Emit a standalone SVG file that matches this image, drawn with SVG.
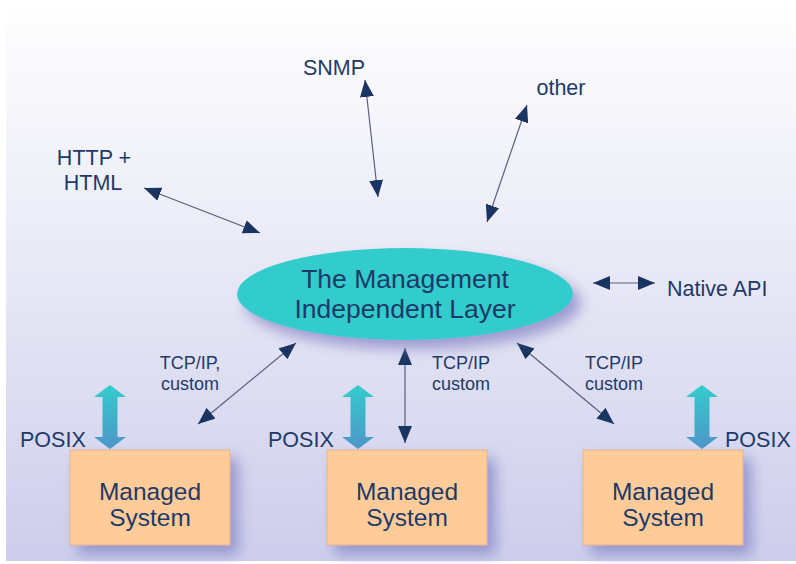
<svg xmlns="http://www.w3.org/2000/svg" width="796" height="564" viewBox="0 0 796 564">
<style>
text{font-family:"Liberation Sans",Arial,sans-serif;fill:#1e3a68}
.lbl{font-size:21.5px}
.tcp{font-size:18px;text-anchor:middle}
.box{fill:#ffcc99;stroke:#e4b58c;stroke-width:1}
.ms{font-size:24.5px;text-anchor:middle}
.conn line{stroke:#5a5f80;stroke-width:1.2;marker-start:url(#ah);marker-end:url(#ah)}
.posix{fill:url(#pg)}
</style>
<defs>
<linearGradient id="bg" x1="0" y1="0" x2="0" y2="1">
<stop offset="0" stop-color="#ffffff"/>
<stop offset="0.45" stop-color="#eaeaf7"/>
<stop offset="1" stop-color="#cdcdec"/>
</linearGradient>
<linearGradient id="pg" x1="0" y1="0" x2="0" y2="1">
<stop offset="0" stop-color="#33cccc"/>
<stop offset="1" stop-color="#4d96c8"/>
</linearGradient>
<filter id="sh" x="-30%" y="-30%" width="160%" height="170%">
<feGaussianBlur in="SourceAlpha" stdDeviation="7"/>
<feOffset dx="8" dy="9" result="b"/>
<feFlood flood-color="#8484c4" flood-opacity="0.75"/>
<feComposite in2="b" operator="in"/>
<feMerge><feMergeNode/><feMergeNode in="SourceGraphic"/></feMerge>
</filter>
<marker id="ah" viewBox="0 0 17 14" refX="17" refY="7" markerWidth="17" markerHeight="14" markerUnits="userSpaceOnUse" orient="auto-start-reverse">
<path d="M0,0 L17,7 L0,14 Z" fill="#1a3462"/>
</marker>
</defs>
<rect x="0" y="0" width="796" height="564" fill="#ffffff"/>
<rect x="6" y="0" width="790" height="561" fill="url(#bg)"/>

<g id="conns" class="conn">
<line x1="260" y1="233" x2="144" y2="188"/>
<line x1="378" y1="197" x2="365" y2="80"/>
<line x1="487" y1="222" x2="527" y2="105"/>
<line x1="593" y1="283" x2="655" y2="283"/>
<line x1="296" y1="343" x2="198" y2="424"/>
<line x1="405" y1="348" x2="405" y2="443"/>
<line x1="517" y1="343" x2="614" y2="424"/>
</g>

<g id="layer">
<ellipse cx="405" cy="294" rx="168" ry="46" fill="#30cccc" filter="url(#sh)"/>
<text x="405" y="288" font-size="26.5" text-anchor="middle">The Management</text>
<text x="405" y="318" font-size="26.5" text-anchor="middle">Independent Layer</text>
</g>

<g id="labels" class="lbl">
<text x="334" y="75" text-anchor="middle">SNMP</text>
<text x="561" y="95" text-anchor="middle">other</text>
<text x="94" y="165" text-anchor="middle">HTTP +</text>
<text x="93" y="190" text-anchor="middle">HTML</text>
<text x="667" y="296">Native API</text>
<text class="tcp" x="190" y="369">TCP/IP,</text>
<text class="tcp" x="190" y="390">custom</text>
<text class="tcp" x="461" y="369">TCP/IP</text>
<text class="tcp" x="461" y="390">custom</text>
<text class="tcp" x="614" y="369">TCP/IP</text>
<text class="tcp" x="614" y="390">custom</text>
</g>

<g id="ms1">
<rect class="box" x="70" y="450" width="160" height="95" filter="url(#sh)"/>
<text class="ms" x="150" y="500">Managed</text>
<text class="ms" x="150" y="526">System</text>
<path class="posix" d="M110,385 L126,397 L117.5,397 L117.5,437 L126,437 L110,449 L94,437 L102.5,437 L102.5,397 L94,397 Z"/>
<text class="lbl" x="20" y="447">POSIX</text>
</g>
<g id="ms2">
<rect class="box" x="327" y="450" width="160" height="95" filter="url(#sh)"/>
<text class="ms" x="407" y="500">Managed</text>
<text class="ms" x="407" y="526">System</text>
<path class="posix" d="M358,385 L374,397 L365.5,397 L365.5,437 L374,437 L358,449 L342,437 L350.5,437 L350.5,397 L342,397 Z"/>
<text class="lbl" x="268" y="447">POSIX</text>
</g>
<g id="ms3">
<rect class="box" x="583" y="450" width="160" height="95" filter="url(#sh)"/>
<text class="ms" x="663" y="500">Managed</text>
<text class="ms" x="663" y="526">System</text>
<path class="posix" d="M702,385 L718,397 L709.5,397 L709.5,437 L718,437 L702,449 L686,437 L694.5,437 L694.5,397 L686,397 Z"/>
<text class="lbl" x="725" y="447">POSIX</text>
</g>
</svg>
